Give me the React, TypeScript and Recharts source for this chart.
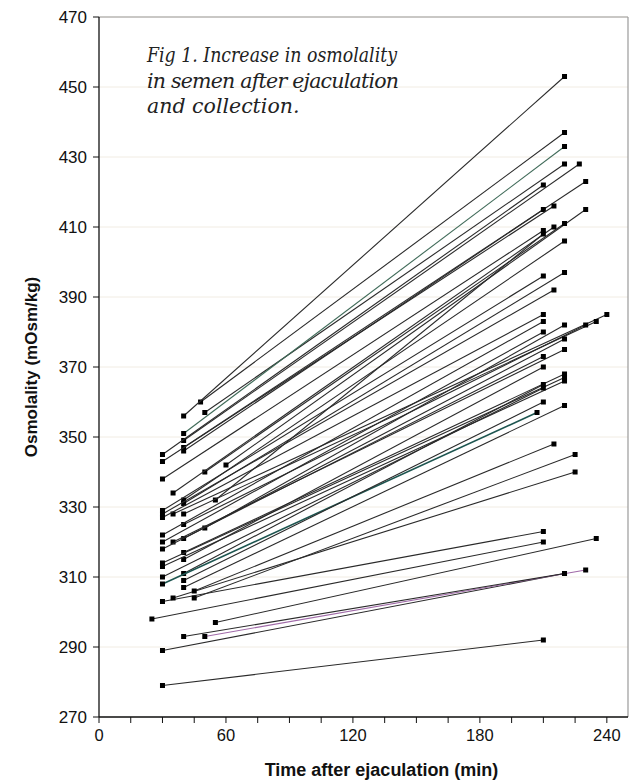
import React from 'react';
import { ScatterChart, Scatter, XAxis, YAxis, CartesianGrid, ReferenceLine, Label } from 'recharts';

// Start of each sample: time (min) and osmolality (mOsm/kg)
const startTime = [48, 50, 40, 40, 40, 40, 40, 30, 30, 60, 50, 30, 35, 40, 55, 40, 30, 30, 35, 40, 30, 40, 50, 30, 40, 30, 35, 30, 40, 40, 30, 30, 40, 30, 30, 40, 40,
  30, 50, 55, 25, 30, 35, 45, 45, 30, 40];
const startOsm = [360, 357, 356, 351, 349, 347, 346, 345, 343, 342, 340, 338, 334, 332, 332, 331, 329, 328, 328, 328, 327, 325, 324, 322, 321, 320, 320, 318, 317, 315, 314, 313, 311, 310, 308, 307, 309,
  289, 293, 297, 298, 303, 304, 304, 306, 279, 293];
// End of each sample
const endTime = [220, 220, 220, 220, 227, 230, 210, 210, 215, 230, 220, 210, 215, 220, 210, 220, 210, 215, 240, 235, 210, 230, 220, 210, 220, 210, 220, 210, 220, 210, 220, 220, 210, 210, 207, 220, 210,
  220, 230, 235, 210, 210, 225, 225, 215, 210, 220];
const endOsm = [437, 428, 453, 433, 428, 423, 415, 422, 416, 415, 411, 409, 410, 406, 408, 397, 396, 392, 385, 383, 385, 382, 382, 383, 378, 380, 375, 373, 368, 370, 367, 366, 365, 364, 357, 359, 360,
  311, 312, 321, 320, 323, 340, 345, 348, 292, 311];
const lineColor = startTime.map((_, i) => (i === 3 ? '#3f6a58' : i === 34 ? '#1d5550' : i === 38 ? '#a06aa8' : '#2a2a2a'));

const yTicks = [270, 290, 310, 330, 350, 370, 390, 410, 430, 450, 470];
const xTicks = [0, 15, 30, 45, 60, 75, 90, 105, 120, 135, 150, 165, 180, 195, 210, 225, 240];
const xLabelTicks = [0, 60, 120, 180, 240];
const titleLines = ['Fig 1. Increase in osmolality', 'in semen after ejaculation', 'and collection.'];
const titleWidths = [250, 252, undefined];

const segments = startTime.map((t, i) => [
  { x: t, y: startOsm[i] },
  { x: endTime[i], y: endOsm[i] },
]);

const SquareDot = (props: any) => {
  const { cx, cy } = props;
  if (cx == null || cy == null) return null;
  return <rect x={cx - 2.5} y={cy - 2.5} width={5} height={5} fill="#000" />;
};

export default function App() {
  return (
    <div style={{ position: 'absolute', left: 0, top: 0, width: 630, height: 784, background: '#fff' }}>
      <ScatterChart width={630} height={784} margin={{ top: 17, right: 2, bottom: 27, left: 0 }}>
        <CartesianGrid horizontal vertical={false} stroke="#f1ece3" />
        <XAxis
          type="number"
          dataKey="x"
          domain={[0, 250]}
          ticks={xTicks}
          allowDataOverflow
          height={40}
          tickSize={6}
          tickMargin={6}
          tick={{ fill: '#111', fontSize: 16.5, fontFamily: 'Liberation Sans, Arial, sans-serif' }}
          tickFormatter={(v: number) => (xLabelTicks.includes(v) ? String(v) : '')}
          stroke="#111"
          axisLine={{ stroke: '#111', strokeWidth: 1.3 }}
        >
          <Label
            value="Time after ejaculation (min)"
            position="center"
            dx={18}
            dy={33}
            style={{ fontSize: 18, fontWeight: 'bold', fill: '#111', fontFamily: 'Liberation Sans, Arial, sans-serif' }}
          />
        </XAxis>
        <YAxis
          type="number"
          dataKey="y"
          domain={[270, 470]}
          ticks={yTicks}
          width={99}
          tickSize={6}
          tickMargin={6}
          tick={{ fill: '#111', fontSize: 17, fontFamily: 'Liberation Sans, Arial, sans-serif' }}
          stroke="#111"
          axisLine={{ stroke: '#111', strokeWidth: 1.3 }}
        >
          <Label
            value="Osmolality (mOsm/kg)"
            position="center"
            angle={-90}
            dx={-19}
            style={{ fontSize: 17, fontWeight: 'bold', fill: '#111', fontFamily: 'Liberation Sans, Arial, sans-serif', textAnchor: 'middle' }}
          />
        </YAxis>
        <ReferenceLine y={470} stroke="#9a9a9a" strokeWidth={1.2} />
        <ReferenceLine x={250} stroke="#9a9a9a" strokeWidth={1.2} />
        {segments.map((seg, i) => (
          <Scatter
            key={i}
            data={seg}
            line={{ stroke: lineColor[i], strokeWidth: i === 34 ? 1.6 : 1.1 }}
            lineType="joint"
            shape={SquareDot}
            isAnimationActive={false}
          />
        ))}
      </ScatterChart>
      <svg width={630} height={784} style={{ position: 'absolute', left: 0, top: 0, pointerEvents: 'none' }}>
        {titleLines.map((line, i) => (
          <text
            key={i}
            x={147}
            y={62 + i * 25.5}
            fontFamily="DejaVu Serif, serif"
            fontStyle="italic"
            fontSize={20.5}
            fill="#222"
            textLength={titleWidths[i]}
            lengthAdjust={i === 0 ? 'spacingAndGlyphs' : 'spacing'}
          >
            {line}
          </text>
        ))}
      </svg>
    </div>
  );
}
